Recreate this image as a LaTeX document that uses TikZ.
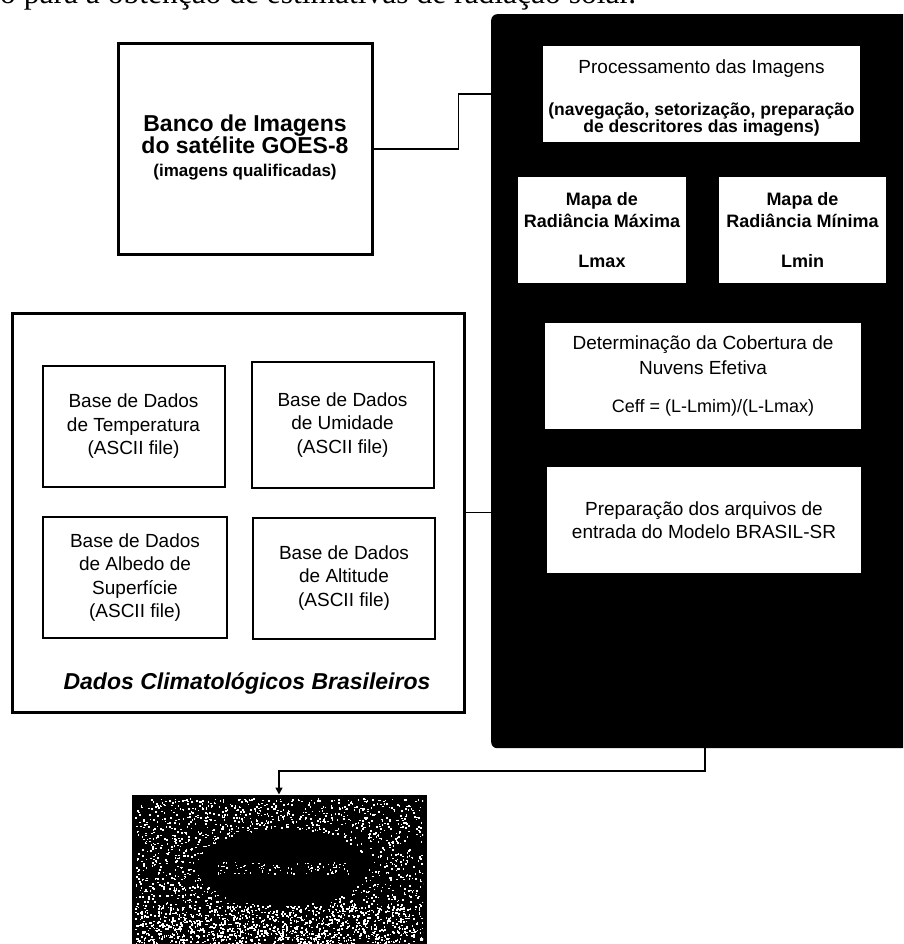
\documentclass[tikz,border=0pt]{standalone}
\usepackage{fontspec}
\setmainfont{Liberation Sans}
\newfontfamily\capserif{Liberation Serif}
\usetikzlibrary{arrows.meta}
\begin{document}
\begin{tikzpicture}[x=1pt,y=-1pt,
  wbox/.style={fill=white, draw=none, align=center, inner sep=0pt},
  dbox/.style={draw=black, line width=2pt, fill=white, align=center, inner sep=0pt,
    minimum width=182pt, minimum height=121pt, font=\fontsize{19}{23.5}\selectfont},
  conn/.style={draw=black, line width=1.5pt},
  arr/.style={conn, -{Triangle[length=7pt,width=7pt]}},
]
\useasboundingbox (0,0) rectangle (903,944);
\clip (0,0) rectangle (903,944);

% partial caption line at the top
\node[anchor=base west, inner sep=0pt, font=\capserif\fontsize{31.5}{31.5}\selectfont] (caption) at (0,4)
  {o para a obtenção de estimativas de radiação solar.};

% black processing panel
\node[fill=black, rounded corners=6pt, minimum width=430pt, minimum height=734pt,
      inner sep=0pt, anchor=north west] (panel) at (491,14) {};

\node[wbox, minimum width=317pt, minimum height=96pt] (proc) at (701.5,94)
  {\rule{0pt}{22pt}\fontsize{19}{19}\selectfont Processamento das Imagens\\[24pt]
   \fontsize{17.5}{19}\selectfont\bfseries (navegação, setorização, preparação\\
   \fontsize{17.5}{19}\selectfont\bfseries de descritores das imagens)};

\node[wbox, minimum width=168pt, minimum height=106pt, font=\bfseries\fontsize{18}{22}\selectfont] (lmax) at (602,230)
  {Mapa de\\Radiância Máxima\\[18pt]Lmax};
\node[wbox, minimum width=167pt, minimum height=106pt, font=\bfseries\fontsize{18}{22}\selectfont] (lmin) at (802.5,230)
  {Mapa de\\Radiância Mínima\\[18pt]Lmin};

\node[wbox, minimum width=316pt, minimum height=106pt, font=\fontsize{19}{25}\selectfont] (ceff) at (703,376)
  {Determinação da Cobertura de\\Nuvens Efetiva\\[13pt]
   \hspace*{20pt}\fontsize{18}{25}\selectfont Ceff = (L-Lmim)/(L-Lmax)};

\node[wbox, minimum width=314pt, minimum height=106pt, font=\fontsize{19}{23}\selectfont] (prep) at (704,520)
  {Preparação dos arquivos de\\entrada do Modelo BRASIL-SR};

% image bank
\node[draw=black, line width=3pt, fill=white, align=center, inner sep=0pt,
      minimum width=254pt, minimum height=210pt,
      font=\bfseries\fontsize{23}{22}\selectfont] (banco) at (245,149)
  {\raisebox{0pt}[16pt][0pt]{Banco de Imagens}\\
   \raisebox{0pt}[16pt][0pt]{do satélite GOES-8}\\
   \raisebox{0pt}[14pt][6pt]{\fontsize{17}{22}\selectfont (imagens qualificadas)}};

% climatological data
\node[draw=black, line width=3pt, fill=white, inner sep=0pt,
      minimum width=452pt, minimum height=399pt] (dados) at (238,512.5) {};
\node[dbox] (temp) at (133.5,426.5) {Base de Dados\\de Temperatura\\(ASCII file)};
\node[dbox, minimum height=126pt] (umid) at (342.5,425) {Base de Dados\\de Umidade\\(ASCII file)};
\node[dbox, minimum width=184pt] (albedo) at (135,577.5) {Base de Dados\\de Albedo de\\Superfície\\(ASCII file)};
\node[dbox] (alt) at (344,578) {Base de Dados\\de Altitude\\(ASCII file)};
\node[inner sep=0pt, font=\bfseries\itshape\fontsize{23}{23}\selectfont] (dtitle) at (247,683)
  {Dados Climatológicos Brasileiros};

% output (noisy image)
\node[draw=black, line width=3pt, fill=black, inner sep=0pt,
      minimum width=292pt, minimum height=170pt] (out) at (279,881) {};
\begin{scope}
  \clip (135,798) rectangle (423,944);
  \pgfmathsetseed{7}
  \foreach \i in {1,...,2400}{
    \pgfmathsetmacro\px{135+rnd*288}
    \pgfmathsetmacro\py{798+rnd*146}
    \pgfmathsetmacro\dd{((\px-282)/80)^2+((\py-867)/36)^2}
    \ifdim\dd pt>1.15pt \fill[white] (\px,\py) rectangle ++(1.6,1.6);\fi
  }
  \foreach \i in {1,...,600}{
    \pgfmathsetmacro\px{135+rnd*288}
    \pgfmathsetmacro\py{905+rnd*39}
    \fill[white] (\px,\py) rectangle ++(1.6,1.6);
  }
  \foreach \i in {1,...,90}{
    \pgfmathsetmacro\px{215+rnd*135}
    \pgfmathsetmacro\py{862+rnd*12}
    \fill[white] (\px,\py) rectangle ++(1.4,1.4);
  }
\end{scope}

% connectors
\draw[conn] (banco.east) -- ++(85,0) |- (panel.west |- proc.center);
\draw[conn] (dados.east) -- (dados.east -| panel.west);
\coordinate (pout) at (705,748);
\draw[arr] (pout) -- ++(0,23) -| (out.north);
\end{tikzpicture}
\end{document}
